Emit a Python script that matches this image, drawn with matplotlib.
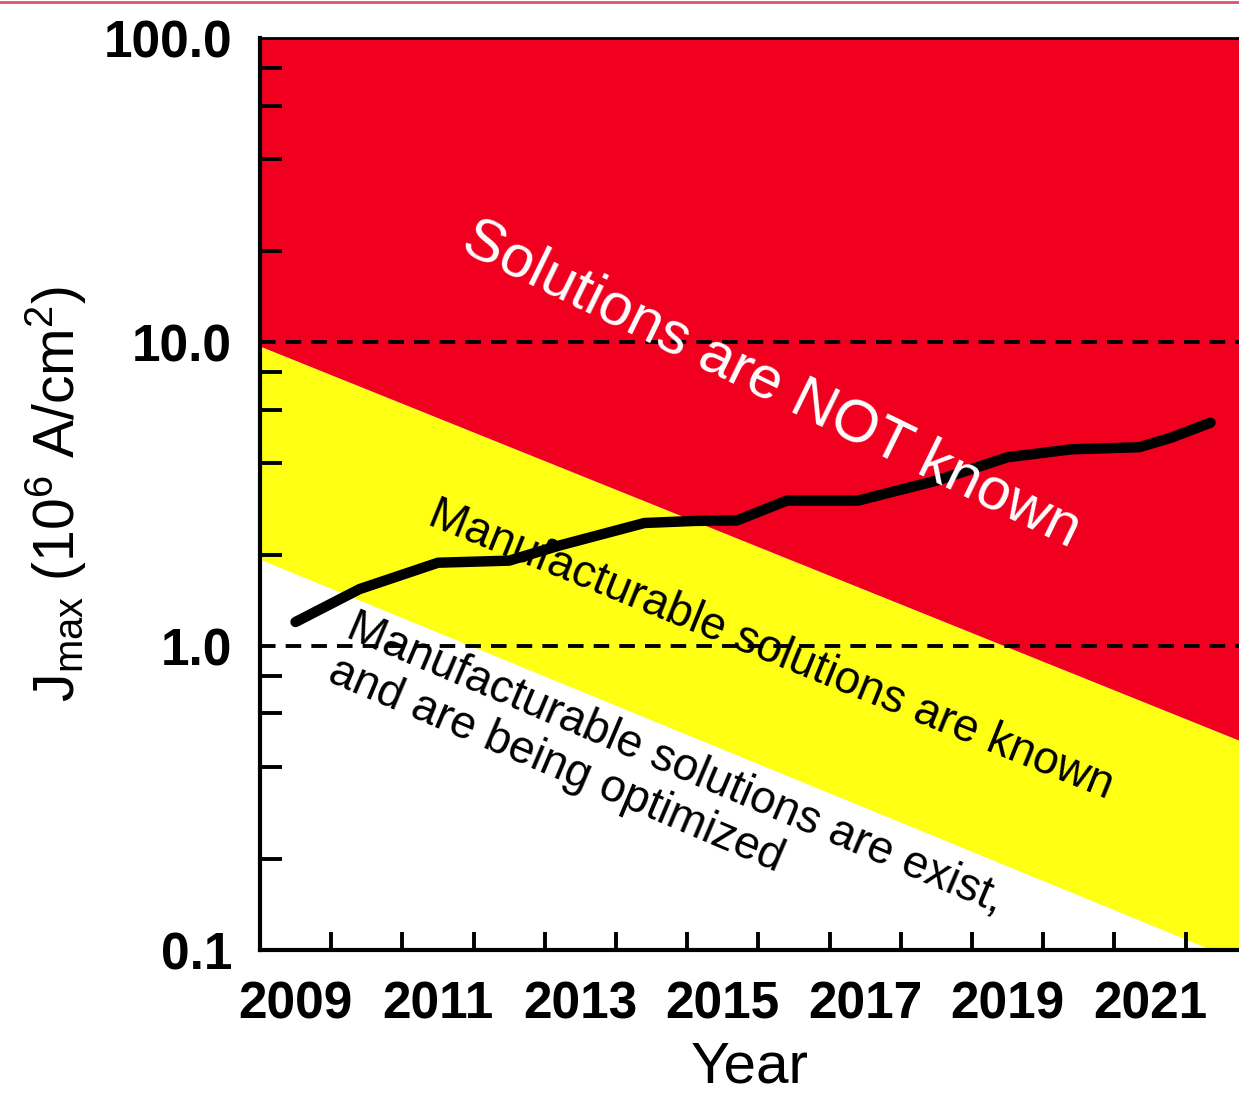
import matplotlib
matplotlib.use("Agg")
import matplotlib.pyplot as plt
from matplotlib.lines import Line2D
from matplotlib.ticker import FixedLocator, NullFormatter

plt.rcParams["font.family"] = ["Liberation Sans", "DejaVu Sans"]
plt.rcParams["mathtext.default"] = "regular"

# Technology-requirement bands (edges of the plotted span)
band_years = [2008.5, 2022.25]
band_upper = [9.7, 0.49]    # top of "solutions known" band
band_lower = [1.93, 0.092]  # top of "solutions exist" region

# Required maximum current density, 10^6 A/cm^2
jmax_years = [2009.0, 2009.9, 2011.0, 2012.0, 2012.7, 2013.9, 2014.6, 2015.2,
              2015.9, 2016.9, 2018.0, 2019.0, 2019.9, 2020.85, 2021.3, 2021.85]
jmax_values = [1.20, 1.54, 1.88, 1.91, 2.14, 2.54, 2.58, 2.59,
               3.01, 3.01, 3.50, 4.18, 4.44, 4.51, 4.85, 5.43]

year_labels = [2009, 2011, 2013, 2015, 2017, 2019, 2021]
y_labels = [0.1, 1.0, 10.0, 100.0]
reference_levels = [1.0, 10.0]

RED = "#f0001e"
YELLOW = "#ffff14"

fig = plt.figure(figsize=(12.39, 10.96), dpi=100)
ax = fig.add_axes([0.2098, 0.1332, 0.7902, 0.832])

ax.set_yscale("log")
ax.set_xlim(band_years[0], band_years[1])
ax.set_ylim(0.1, 100)

ax.fill_between(band_years, band_lower, band_upper, color=YELLOW, lw=0, zorder=1)
ax.fill_between(band_years, band_upper, [100, 100], color=RED, lw=0, zorder=1)

for level in reference_levels:
    ax.axhline(level, color="black", lw=2.8, ls=(0, (4, 2.6)), zorder=2)

ax.plot(jmax_years, jmax_values, color="black", lw=7.5, solid_capstyle="round",
        solid_joinstyle="round", zorder=3)

ax.text(2015.69, 7.22, "Solutions are NOT known", color="white", fontsize=43,
        rotation=-26, rotation_mode="anchor", ha="center", va="center", zorder=4)
ax.text(2015.67, 0.97, "Manufacturable solutions are known", color="black",
        fontsize=33, rotation=-22, rotation_mode="anchor", ha="center",
        va="center", zorder=4)
ax.text(2014.2, 0.346, "Manufacturable solutions are exist,\nand are being optimized",
        color="black", fontsize=33, rotation=-23, rotation_mode="anchor",
        ha="center", va="center", multialignment="left", linespacing=1.1,
        zorder=4)

# ticks: labels on the years, short marks between them
ax.xaxis.set_major_locator(FixedLocator(year_labels))
ax.set_xticklabels([str(y) for y in year_labels])
ax.xaxis.set_minor_locator(FixedLocator([y + 0.5 for y in range(2009, 2022)]))
ax.tick_params(axis="x", which="major", length=0, pad=22, labelsize=37)
ax.tick_params(axis="x", which="minor", direction="in", length=13, width=2.8)

ax.yaxis.set_major_locator(FixedLocator(y_labels))
ax.set_yticklabels([f"{v:.1f}" for v in y_labels])
minor_y = [m * d for d in (0.1, 1, 10) for m in (2, 4, 6, 8)]
ax.yaxis.set_minor_locator(FixedLocator(minor_y))
ax.yaxis.set_minor_formatter(NullFormatter())
ax.tick_params(axis="y", which="major", length=0, pad=20, labelsize=37)
ax.tick_params(axis="y", which="minor", direction="in", length=16, width=2.8)
for lbl in ax.get_xticklabels() + ax.get_yticklabels():
    lbl.set_fontweight("bold")

for side in ("left", "bottom"):
    ax.spines[side].set_linewidth(3)
ax.spines["top"].set_linewidth(2)
ax.spines["right"].set_visible(False)
for spine in ax.spines.values():
    spine.set_zorder(5)

ax.set_xlabel("Year", fontsize=42, labelpad=8)
ax.set_ylabel(r"J$_{max}$ (10$^{6}$ A/cm$^{2}$)", fontsize=41)
ax.yaxis.set_label_coords(-0.175, 0.5)

fig.add_artist(Line2D([0, 1], [0.9985, 0.9985], color="#e0506a", lw=2,
                      transform=fig.transFigure))

fig.savefig("out.png", dpi=100)
